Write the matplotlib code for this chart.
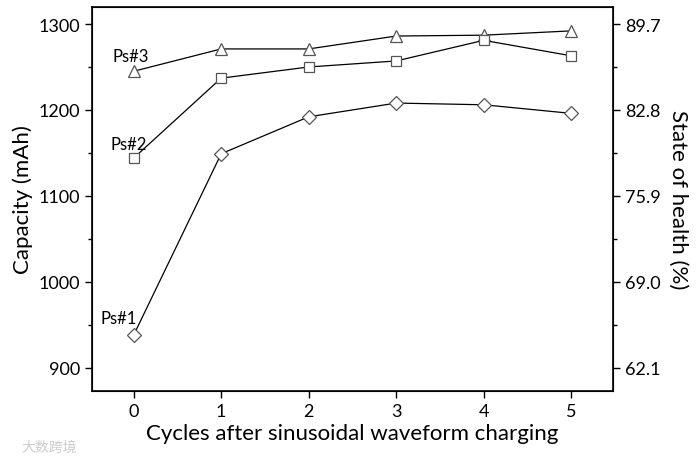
import numpy as np
import matplotlib.pyplot as plt
from matplotlib.ticker import MultipleLocator, FuncFormatter

plt.rcParams['font.family'] = ['Lato', 'Noto Sans CJK SC', 'DejaVu Sans']

cycles = [0, 1, 2, 3, 4, 5]
ps1 = [938, 1149, 1192, 1208, 1206, 1196]
ps2 = [1144, 1237, 1250, 1257, 1281, 1263]
ps3 = [1245, 1271, 1271, 1286, 1287, 1292]
nominal = 1450.0  # capacity for 100 % SOH

fig = plt.figure(figsize=(7, 4.6), dpi=100)
ax = fig.add_axes([0.131, 0.148, 0.745, 0.835])

mk = dict(color='black', lw=0.9, mfc='white', mec='#555555', mew=0.9)
ax.plot(cycles, ps3, marker='^', ms=8.5, **mk)
ax.plot(cycles, ps2, marker='s', ms=7.5, **mk)
ax.plot(cycles, ps1, marker='D', ms=7, **mk)

ax.text(-0.03, 1263, 'Ps#3', ha='center', va='center', fontsize=12)
ax.text(-0.06, 1160, 'Ps#2', ha='center', va='center', fontsize=12)
ax.text(-0.17, 958, 'Ps#1', ha='center', va='center', fontsize=12)

ax.set_xlim(-0.48, 5.48)
ax.set_ylim(873, 1320)
ax.set_xticks(cycles)
ax.yaxis.set_major_locator(MultipleLocator(100))
ax.yaxis.set_minor_locator(MultipleLocator(50))
ax.tick_params(axis='both', which='major', direction='out', length=5, width=1, labelsize=13)
ax.tick_params(axis='y', which='minor', direction='out', length=3, width=1)
ax.set_xlabel('Cycles after sinusoidal waveform charging', fontsize=16, labelpad=3)
ax.set_ylabel('Capacity (mAh)', fontsize=16)
for s in ax.spines.values():
    s.set_linewidth(1.2)

ax2 = ax.twinx()
ax2.set_ylim(ax.get_ylim())
ax2.yaxis.set_major_locator(MultipleLocator(100))
ax2.yaxis.set_minor_locator(MultipleLocator(50))
ax2.yaxis.set_major_formatter(FuncFormatter(lambda v, p: '%.1f' % (v / nominal * 100)))
ax2.tick_params(axis='y', which='major', direction='out', length=5, width=1, labelsize=13)
ax2.tick_params(axis='y', which='minor', direction='out', length=3, width=1)
ax2.set_ylabel('State of health (%)', fontsize=16, rotation=270, labelpad=20)

fig.text(0.03, 0.018, '大数跨境', fontsize=10, color='#cccccc')

fig.savefig('out.png', dpi=100)
